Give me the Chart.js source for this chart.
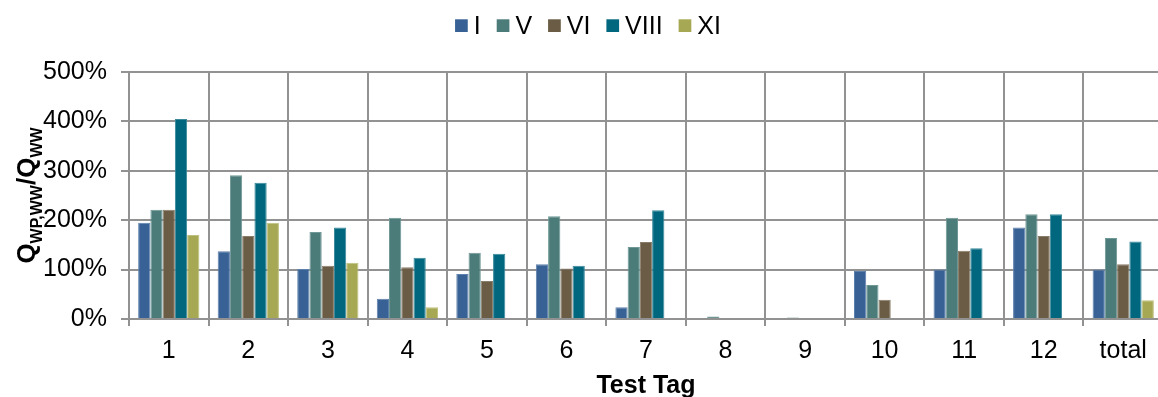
<!DOCTYPE html>
<html>
<head>
<meta charset="utf-8">
<script src="https://cdn.jsdelivr.net/npm/chart.js@4.4.1/dist/chart.umd.min.js"></script>
<style>
  html, body { margin: 0; padding: 0; background: #fff; overflow: hidden; width: 1158px; height: 397px; }
  #wrap { position: absolute; left: 0; top: 0; width: 1164px; height: 397px; }
</style>
</head>
<body>
<div id="wrap"><canvas id="chart" width="1164" height="397"></canvas></div>
<script>
// Test tags along the x axis
const categories = ['1', '2', '3', '4', '5', '6', '7', '8', '9', '10', '11', '12', 'total'];

// Series names (legend)
const seriesNames = ['I', 'V', 'VI', 'VIII', 'XI'];

// Q_WP,WW / Q_WW in percent, one array per series
const valuesI    = [195, 137, 101, 41, 91, 111, 24, -4, -4, 97, 100, 185, 100];
const valuesV    = [221, 291, 176, 205, 134, 208, 146, 5, 3, 69, 205, 212, 164];
const valuesVI   = [221, 168, 108, 105, 77, 102, 156, null, null, 39, 138, 168, 111];
const valuesVIII = [405, 276, 185, 124, 132, 108, 220, null, null, null, 143, 212, 157];
const valuesXI   = [170, 195, 114, 24, null, null, null, null, null, null, null, null, 38];

// Y axis tick values (percent)
const yTickValues = [0, 100, 200, 300, 400, 500];

const seriesColors = ['#386295', '#4b7c79', '#6b5c45', '#01677e', '#a6a853'];
const seriesEdges  = ['#5d80ad', '#6f9896', '#8a7d6a', '#3a8a9c', '#bfc07f'];

const FONT = "'Liberation Sans', Arial, Helvetica, sans-serif";
const GRID = '#929292';

const allSeries = [valuesI, valuesV, valuesVI, valuesVIII, valuesXI];

const datasets = seriesNames.map((name, i) => ({
  label: name,
  data: allSeries[i],
  backgroundColor: seriesColors[i],
  borderColor: seriesEdges[i],
  borderWidth: 1,
  borderSkipped: 'bottom',
  categoryPercentage: 0.77,
  barPercentage: 1.0
}));

// Legend drawn on the canvas: small square swatch, narrow gap, label
const legendPlugin = {
  id: 'topLegend',
  afterDraw(chart) {
    const ctx = chart.ctx;
    const box = 12.7, gap = 6, spacing = 16, centerX = 588, boxTop = 19.3, baseline = 33.5;
    ctx.save();
    ctx.font = '25px ' + FONT;
    const widths = seriesNames.map(n => ctx.measureText(n).width);
    let total = 0;
    widths.forEach((w, i) => { total += box + gap + w + (i < widths.length - 1 ? spacing : 0); });
    let x = centerX - total / 2;
    seriesNames.forEach((n, i) => {
      ctx.fillStyle = seriesColors[i];
      ctx.fillRect(x, boxTop, box, box);
      x += box + gap;
      ctx.fillStyle = '#000';
      ctx.textBaseline = 'alphabetic';
      ctx.textAlign = 'left';
      ctx.fillText(n, x, baseline);
      x += widths[i] + spacing;
    });
    ctx.restore();
  }
};

// Rotated y-axis title with subscripts: Q_WP,WW / Q_WW
const yTitlePlugin = {
  id: 'yTitle',
  afterDraw(chart) {
    const ctx = chart.ctx;
    const area = chart.chartArea;
    const parts = [
      { t: 'Q', size: 26, sub: false },
      { t: 'WP,WW', size: 16, sub: true },
      { t: '/', size: 26, sub: false },
      { t: 'Q', size: 26, sub: false },
      { t: 'WW', size: 16, sub: true }
    ];
    ctx.save();
    let total = 0;
    parts.forEach(p => { ctx.font = 'bold ' + p.size + 'px ' + FONT; p.w = ctx.measureText(p.t).width; total += p.w; });
    const cy = (area.top + area.bottom) / 2;
    ctx.translate(35, cy);
    ctx.rotate(-Math.PI / 2);
    ctx.fillStyle = '#000';
    ctx.textBaseline = 'alphabetic';
    ctx.textAlign = 'left';
    let x = -total / 2;
    parts.forEach(p => {
      ctx.font = 'bold ' + p.size + 'px ' + FONT;
      ctx.fillText(p.t, x, p.sub ? 7 : 0);
      x += p.w;
    });
    ctx.restore();
  }
};

new Chart(document.getElementById('chart'), {
  type: 'bar',
  data: { labels: categories, datasets },
  plugins: [legendPlugin, yTitlePlugin],
  options: {
    responsive: false,
    animation: false,
    devicePixelRatio: 1,
    layout: { padding: { left: 0, right: 1, top: 72, bottom: 0 } },
    plugins: { legend: { display: false }, tooltip: { enabled: false } },
    scales: {
      x: {
        offset: true,
        grid: { offset: true, color: GRID, lineWidth: 2, tickLength: 7 },
        border: { display: true, color: GRID, width: 2 },
        ticks: { color: '#000', font: { family: FONT, size: 25 }, padding: 10, maxRotation: 0, autoSkip: false },
        title: { display: true, text: 'Test Tag', color: '#000', font: { family: FONT, size: 25, weight: 'bold' }, padding: { top: 0, bottom: -4 } },
        afterFit(scale) { scale.height = 78; }
      },
      y: {
        min: yTickValues[0],
        max: yTickValues[yTickValues.length - 1],
        afterBuildTicks(scale) { scale.ticks = yTickValues.map(v => ({ value: v })); },
        grid: { color: GRID, lineWidth: 2, tickLength: 8 },
        border: { display: true, color: GRID, width: 2 },
        ticks: { color: '#000', font: { family: FONT, size: 25 }, padding: 14, callback: v => v + '%' },
        afterFit(scale) { scale.width = 129; }
      }
    }
  }
});
</script>
</body>
</html>
